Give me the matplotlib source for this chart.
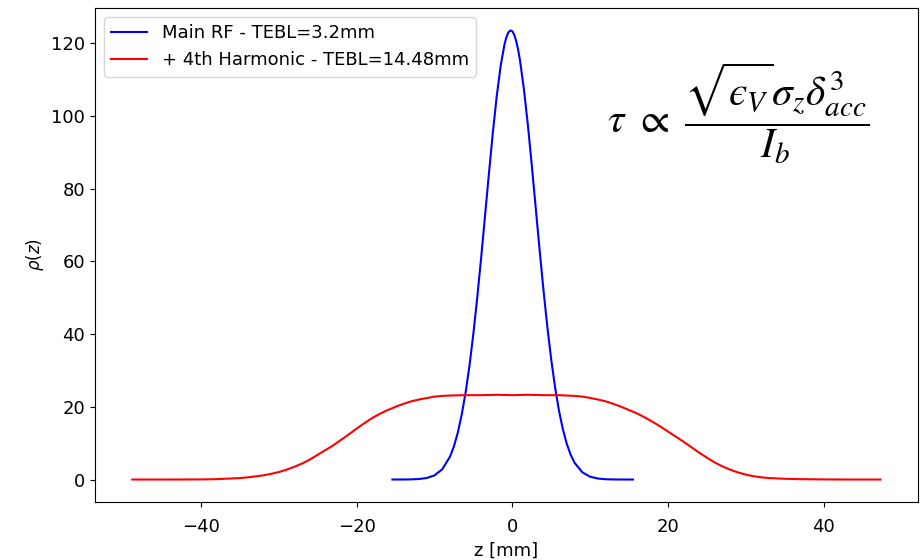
import matplotlib
matplotlib.use("Agg")
import matplotlib.pyplot as plt

# Main RF bunch profile (z in mm, rho)
z_main = [-15.4, -14, -13, -12, -11, -10, -9, -8, -7.5, -7, -6.5, -6, -5.5, -5, -4.5, -4,
          -3.5, -3, -2.5, -2, -1.5, -1, -0.75, -0.5, -0.25, 0, 0.25, 0.5, 0.75, 1, 1.5, 2, 2.5, 3, 3.5, 4, 4.5,
          5, 5.5, 6, 6.5, 7, 7.5, 8, 9, 10, 11, 12, 13, 14, 15.5]
rho_main = [0.0, 0.01, 0.04, 0.14, 0.42, 1.13, 2.82, 6.3, 9.1, 12.9, 17.8, 23.9, 31.3, 40.1, 50.1, 61.0,
            72.6, 84.2, 95.4, 105.4, 113.7, 119.7, 121.7, 123.0, 123.5, 123.3, 122.3, 120.6, 118.2, 115.1, 107.2, 97.5, 86.5, 74.9, 63.3, 52.2, 42.0,
            33.0, 25.3, 18.9, 13.8, 9.8, 6.8, 4.6, 1.98, 0.77, 0.27, 0.08, 0.02, 0.0, 0.0]

# With 4th harmonic cavity
z_harm = [-48.8, -44, -40, -38, -36, -35, -34, -33, -32, -31, -30, -29, -28, -27, -26, -25, -24, -23,
          -22, -21, -20, -19, -18, -17, -16, -15, -14, -13, -12, -11, -10, -9, -8,
          -6, -4, -2, 0, 2, 4, 6,
          8, 9, 10, 11, 12, 13, 14, 15, 16, 17, 18, 19, 20, 21, 22, 23, 24, 25, 26, 27, 28, 29,
          30, 31, 32, 33, 34, 35, 37, 40, 43, 47.3]
rho_harm = [0.0, 0.0, 0.03, 0.1, 0.3, 0.4, 0.6, 0.85, 1.15, 1.55, 2.05, 2.7, 3.5, 4.4, 5.5, 6.8, 8.1, 9.4,
            10.9, 12.4, 14.0, 15.5, 16.9, 18.1, 19.1, 20.0, 20.8, 21.5, 22.0, 22.4, 22.8, 23.0, 23.1,
            23.2, 23.2, 23.3, 23.2, 23.3, 23.2, 23.2,
            23.0, 22.8, 22.45, 22.0, 21.5, 20.8, 20.0, 19.1, 18.2, 17.1, 15.9, 14.6, 13.2, 11.8, 10.4, 8.9, 7.4, 6.0, 4.7, 3.6, 2.7, 1.95,
            1.35, 0.9, 0.6, 0.4, 0.3, 0.2, 0.1, 0.03, 0.0, 0.0]

label_main = "Main RF - TEBL=3.2mm"
label_harm = "+ 4th Harmonic - TEBL=14.48mm"

fig = plt.figure(figsize=(9.21, 5.6), dpi=100)
ax = fig.add_axes([0.1031, 0.1036, 0.8936, 0.8821])
ax.plot(z_main, rho_main, color="blue", lw=1.5, label=label_main)
ax.plot(z_harm, rho_harm, color="red", lw=1.5, label=label_harm)

ax.set_xticks([-40, -20, 0, 20, 40])
ax.set_yticks([0, 20, 40, 60, 80, 100, 120])
ax.tick_params(labelsize=13)
ax.tick_params(axis="x", pad=8)
ax.set_xlabel("z [mm]", fontsize=13)
ax.set_ylabel(r"$\rho(z)$", fontsize=12, math_fontfamily="dejavusans")
ax.legend(loc="upper left", fontsize=13)

fig.text(0.659, 0.797, "$\\tau\\ \\propto\\ \\dfrac{\\sqrt{\u03f5_V}\\sigma_z\\delta_{acc}^3}{I_b}$",
         fontsize=30, ha="left", va="center", math_fontfamily="stix")

fig.savefig("out.png", dpi=100)
